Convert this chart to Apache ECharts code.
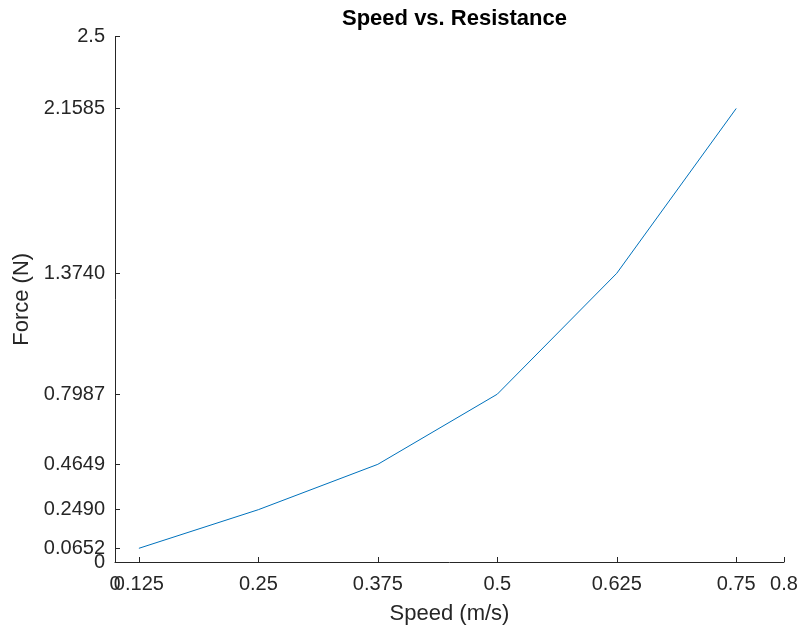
<!DOCTYPE html>
<html>
<head>
<meta charset="utf-8">
<script src="https://cdn.jsdelivr.net/npm/echarts@6/dist/echarts.min.js"></script>
<style>
  html, body { margin: 0; padding: 0; background: #ffffff; }
  #chart { width: 801px; height: 630px; }
</style>
</head>
<body>
<div id="chart"></div>
<script>
// Measured speed and the resistance force at each speed
const speeds = [0.125, 0.25, 0.375, 0.5, 0.625, 0.75];
const forces = [0.0652, 0.2490, 0.4649, 0.7987, 1.3740, 2.1585];

// Tick positions and the text shown at each
const xTickValues = [0.1, 0.125, 0.25, 0.375, 0.5, 0.625, 0.75, 0.8];
const xTickLabels = ['0', '0.125', '0.25', '0.375', '0.5', '0.625', '0.75', '0.8'];
const yTickValues = [0, 0.0652, 0.2490, 0.4649, 0.7987, 1.3740, 2.1585, 2.5];
const yTickLabels = ['0', '0.0652', '0.2490', '0.4649', '0.7987', '1.3740', '2.1585', '2.5'];

const axisColor = '#262626';
const fontFamily = '"Liberation Sans", Arial, Helvetica, sans-serif';
const xMin = 0.1, xMax = 0.8, yMin = 0, yMax = 2.5;

function labelFor(values, labels) {
  return function (v) {
    for (let i = 0; i < values.length; i++) {
      if (Math.abs(values[i] - v) < 1e-9) return labels[i];
    }
    return '';
  };
}

const tickFont = { fontFamily: fontFamily, fontSize: 20, color: axisColor };

const chart = echarts.init(document.getElementById('chart'), null, { renderer: 'canvas' });

chart.setOption({
  animation: false,
  backgroundColor: '#ffffff',
  title: {
    text: 'Speed vs. Resistance',
    left: 449.5,
    textAlign: 'center',
    top: 3,
    textStyle: { fontFamily: fontFamily, fontSize: 22, fontWeight: 'bold', color: '#000000' }
  },
  grid: { left: 115, right: 17, top: 36.7, bottom: 67.3, containLabel: false },
  xAxis: [{
    type: 'value',
    position: 'bottom',
    min: xMin,
    max: xMax,
    name: 'Speed (m/s)',
    nameLocation: 'middle',
    nameGap: 41,
    nameTextStyle: { fontFamily: fontFamily, fontSize: 22, color: axisColor },
    axisLine: { show: true, onZero: false, lineStyle: { color: axisColor, width: 1 } },
    axisTick: { show: true, inside: true, length: 5, customValues: xTickValues, lineStyle: { color: axisColor } },
    axisLabel: Object.assign({
      customValues: xTickValues.slice(1),
      formatter: labelFor(xTickValues, xTickLabels),
      margin: 12
    }, tickFont),
    splitLine: { show: false }
  }, {
    // the lower-limit label, drawn on its own so it may overlap its neighbour
    type: 'value',
    position: 'bottom',
    offset: 0,
    min: xMin,
    max: xMax,
    axisLine: { show: false },
    axisTick: { show: false },
    axisLabel: Object.assign({
      customValues: xTickValues.slice(0, 1),
      formatter: labelFor(xTickValues, xTickLabels),
      showMinLabel: true,
      margin: 12
    }, tickFont),
    splitLine: { show: false }
  }],
  yAxis: [{
    type: 'value',
    position: 'left',
    min: yMin,
    max: yMax,
    name: 'Force (N)',
    nameLocation: 'middle',
    nameGap: 78,
    nameTextStyle: { fontFamily: fontFamily, fontSize: 22, color: axisColor },
    axisLine: { show: true, onZero: false, lineStyle: { color: axisColor, width: 1 } },
    axisTick: { show: true, inside: true, length: 5, customValues: yTickValues, lineStyle: { color: axisColor } },
    axisLabel: Object.assign({
      customValues: yTickValues.slice(1),
      formatter: labelFor(yTickValues, yTickLabels),
      margin: 10,
      padding: [3, 0, 0, 0]
    }, tickFont),
    splitLine: { show: false }
  }, {
    type: 'value',
    position: 'left',
    offset: 0,
    min: yMin,
    max: yMax,
    axisLine: { show: false },
    axisTick: { show: false },
    axisLabel: Object.assign({
      customValues: yTickValues.slice(0, 1),
      formatter: labelFor(yTickValues, yTickLabels),
      showMinLabel: true,
      margin: 10,
      padding: [3, 0, 0, 0]
    }, tickFont),
    splitLine: { show: false }
  }],
  series: [{
    type: 'line',
    xAxisIndex: 0,
    yAxisIndex: 0,
    data: speeds.map((s, i) => [s, forces[i]]),
    showSymbol: false,
    symbol: 'none',
    lineStyle: { color: '#0072BD', width: 1 },
    silent: true
  }]
});
</script>
</body>
</html>
